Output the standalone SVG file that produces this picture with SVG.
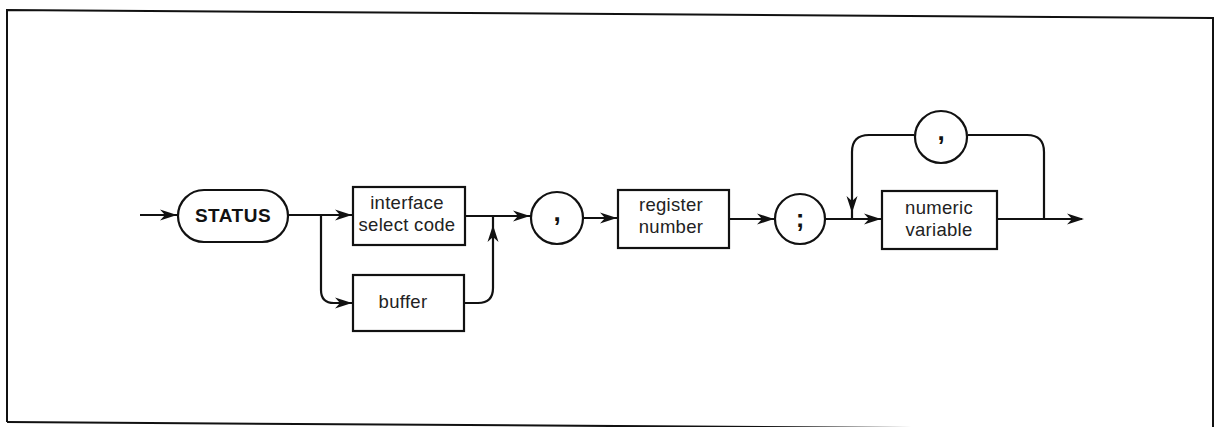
<svg xmlns="http://www.w3.org/2000/svg" xmlns:xlink="http://www.w3.org/1999/xlink" width="1214" height="427" viewBox="0 0 1214 427">
<style>
.frame{fill:none;stroke:#111;stroke-width:2}
.shape{fill:#fff;stroke:#111;stroke-width:2.2}
.line{fill:none;stroke:#111;stroke-width:2.2}
.ah{fill:#111;stroke:none}
.lbl{font-family:"Liberation Sans",Arial,sans-serif;font-size:18.5px;fill:#222;text-anchor:middle;letter-spacing:0.3px}
.kw{font-family:"Liberation Sans",Arial,sans-serif;font-size:19px;font-weight:bold;fill:#111;text-anchor:middle;letter-spacing:0.5px}
.pun{font-family:"Liberation Sans",Arial,sans-serif;font-size:26px;font-weight:bold;fill:#111;text-anchor:middle}
</style>
<defs>
<path id="ah" class="ah" d="M0,0 L-17,-5.5 L-12,0 L-17,5.5 Z"/>
</defs>
<rect width="1214" height="427" fill="#fff"/>
<path class="frame" d="M7 422 L7 10 L1213 18 L1213 430"/>
<path class="frame" d="M7 422 L1213 430"/>
<g id="connectors">
<path class="line" d="M140 215 H178"/>
<use xlink:href="#ah" transform="translate(177,215)"/>
<path class="line" d="M288 215 H353"/>
<use xlink:href="#ah" transform="translate(352,215)"/>
<path class="line" d="M321 215 V290 Q321 303 334 303 H353"/>
<use xlink:href="#ah" transform="translate(352,303)"/>
<path class="line" d="M465 216 H531"/>
<use xlink:href="#ah" transform="translate(530,216)"/>
<path class="line" d="M464 303 H478 Q493 303 493 288 V216"/>
<use xlink:href="#ah" transform="translate(493,225) rotate(-90)"/>
<path class="line" d="M583 218 H618"/>
<use xlink:href="#ah" transform="translate(617,218)"/>
<path class="line" d="M729 219 H775"/>
<use xlink:href="#ah" transform="translate(774,219)"/>
<path class="line" d="M825 219 H882"/>
<use xlink:href="#ah" transform="translate(881,219)"/>
<path class="line" d="M1044 219 V152 Q1044 135 1027 135 H968"/>
<path class="line" d="M914 135 H869 Q852 135 852 152 V219"/>
<use xlink:href="#ah" transform="translate(852,213) rotate(90)"/>
<path class="line" d="M997 219 H1082"/>
<use xlink:href="#ah" transform="translate(1084,219)"/>
</g>
<g id="status">
<rect class="shape" x="178" y="190" width="110" height="52" rx="26" ry="26"/>
<text class="kw" x="233" y="222">STATUS</text>
</g>
<g id="interface">
<rect class="shape" x="353" y="187" width="112" height="58"/>
<text class="lbl" x="407" y="209">interface</text>
<text class="lbl" x="407" y="231">select code</text>
</g>
<g id="buffer">
<rect class="shape" x="353" y="275" width="111" height="56"/>
<text class="lbl" x="403" y="308">buffer</text>
</g>
<g id="comma1">
<circle class="shape" cx="557" cy="218" r="26"/>
<text class="pun" x="557" y="221">,</text>
</g>
<g id="register">
<rect class="shape" x="618" y="190" width="111" height="58"/>
<text class="lbl" x="671" y="211">register</text>
<text class="lbl" x="671" y="233">number</text>
</g>
<g id="semicolon">
<circle class="shape" cx="800" cy="219" r="25"/>
<text class="pun" x="800" y="227">;</text>
</g>
<g id="numeric">
<rect class="shape" x="882" y="191" width="115" height="58"/>
<text class="lbl" x="939" y="214">numeric</text>
<text class="lbl" x="939" y="236">variable</text>
</g>
<g id="comma2">
<circle class="shape" cx="941" cy="137" r="26"/>
<text class="pun" x="941" y="140">,</text>
</g>
</svg>
